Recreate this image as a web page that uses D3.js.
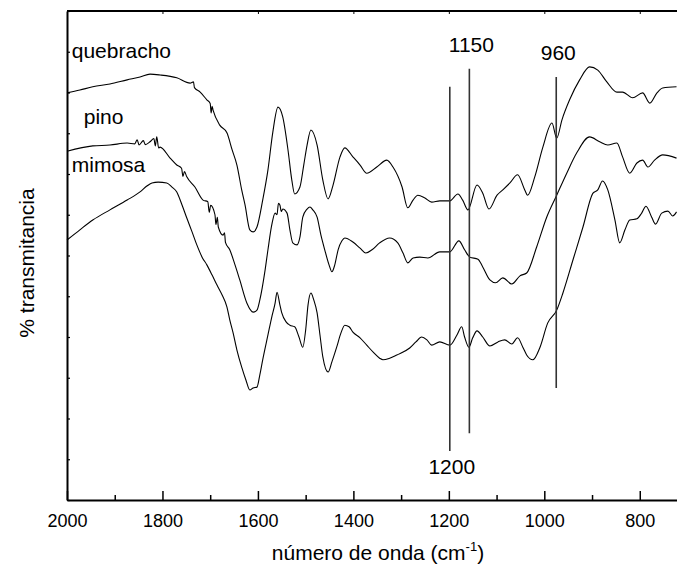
<!DOCTYPE html>
<html>
<head>
<meta charset="utf-8">
<script src="https://cdn.jsdelivr.net/npm/d3@7"></script>
<style>
  body { margin: 0; background: #fff; }
  svg { display: block; font-family: 'Liberation Sans', Arial, sans-serif; }
</style>
</head>
<body>
<div id="chart"></div>
<script>
// spectra: [wavenumber cm-1, transmittance (arbitrary %)]
const quebracho = [
  [2000, 99.9], [1973, 100.6], [1946, 101.4], [1910, 102.1], [1874, 103.1], [1847, 103.8],
  [1826, 104.5], [1805, 104.3], [1770, 103.6], [1742, 102.3], [1735, 102.6], [1733, 101.2],
  [1721, 100.1], [1707, 98.2], [1700, 97.3], [1698, 95.0], [1696, 96.6], [1694, 95.7],
  [1680, 92.0], [1665, 90.1], [1654, 85.9], [1644, 82.2], [1634, 76.1], [1627, 72.4],
  [1617, 66.3], [1610, 65.8], [1602, 67.0], [1590, 73.6], [1579, 81.0], [1569, 90.1],
  [1558, 96.4], [1548, 94.0], [1537, 85.9], [1529, 78.5], [1523, 75.1], [1512, 76.8],
  [1504, 82.2], [1497, 87.1], [1489, 90.8], [1476, 87.1], [1464, 78.5], [1453, 73.9],
  [1443, 77.1], [1428, 84.2], [1418, 86.4], [1401, 84.2], [1386, 82.2], [1372, 80.2],
  [1351, 81.7], [1330, 83.4], [1317, 81.7], [1298, 76.8], [1286, 71.7], [1275, 73.6],
  [1265, 74.8], [1250, 74.1], [1236, 73.1], [1219, 73.4], [1198, 73.4], [1181, 75.1],
  [1171, 73.6], [1160, 71.2], [1141, 77.3], [1129, 75.3], [1116, 71.4], [1099, 74.8],
  [1087, 76.1], [1072, 77.8], [1056, 79.8], [1041, 76.1], [1035, 74.8], [1020, 79.3],
  [1003, 86.6], [984, 92.5], [974, 88.8], [963, 93.3], [947, 98.2], [926, 103.1],
  [905, 106.3], [888, 105.5], [869, 102.6], [848, 100.1], [836, 100.1], [815, 98.7],
  [794, 99.9], [779, 97.4], [764, 99.9], [752, 101.1], [723, 101.4],
];

const pino = [
  [2000, 85.6], [1946, 86.9], [1910, 87.1], [1874, 87.6], [1858, 87.4], [1853, 88.4],
  [1849, 87.1], [1840, 88.2], [1836, 87.2], [1826, 87.9], [1818, 88.7], [1815, 86.9],
  [1812, 89.1], [1808, 86.4], [1805, 86.6], [1784, 83.9], [1770, 82.2], [1760, 81.4],
  [1757, 79.4], [1754, 80.6], [1749, 79.3], [1732, 76.8], [1715, 73.6], [1705, 73.2],
  [1702, 70.6], [1699, 72.3], [1690, 70.0], [1688, 67.6], [1685, 69.4], [1683, 67.0],
  [1673, 65.0], [1670, 65.6], [1668, 63.2], [1659, 61.4], [1648, 57.7], [1638, 54.0],
  [1623, 48.3], [1610, 46.1], [1602, 46.6], [1596, 49.1], [1585, 56.4], [1579, 61.4],
  [1571, 67.5], [1564, 70.4], [1560, 70.0], [1557, 72.8], [1554, 72.4], [1551, 70.8],
  [1548, 71.4], [1539, 70.4], [1533, 66.3], [1527, 63.1], [1518, 62.6], [1512, 64.5],
  [1506, 69.4], [1497, 71.4], [1491, 71.9], [1485, 71.2], [1476, 69.4], [1468, 65.0],
  [1460, 61.4], [1451, 57.7], [1445, 56.0], [1439, 57.7], [1432, 61.4], [1424, 63.6],
  [1418, 64.3], [1401, 63.3], [1386, 61.8], [1374, 60.6], [1361, 61.4], [1345, 63.1],
  [1324, 64.3], [1307, 63.1], [1296, 60.6], [1286, 58.2], [1275, 59.4], [1261, 59.6],
  [1244, 59.4], [1219, 60.9], [1198, 60.9], [1179, 63.6], [1167, 61.4], [1156, 59.6],
  [1139, 59.1], [1129, 57.2], [1114, 54.0], [1102, 53.3], [1087, 54.5], [1068, 53.0],
  [1051, 55.0], [1037, 55.7], [1016, 62.1], [995, 69.4], [974, 74.8], [953, 80.2],
  [932, 85.2], [905, 89.1], [884, 87.9], [867, 87.1], [848, 87.6], [836, 84.2],
  [821, 80.2], [806, 82.7], [794, 83.4], [783, 81.7], [769, 83.4], [752, 84.7], [723, 83.9],
];

const mimosa = [
  [2000, 63.8], [1973, 66.3], [1946, 68.7], [1910, 71.2], [1874, 73.6], [1847, 75.6],
  [1832, 77.1], [1822, 77.8], [1809, 78.0], [1791, 77.8], [1780, 76.8], [1770, 75.6],
  [1759, 72.4], [1749, 69.2], [1738, 65.8], [1728, 62.6], [1717, 59.6], [1707, 57.7],
  [1696, 55.2], [1686, 52.8], [1675, 50.3], [1665, 47.4], [1659, 44.2], [1652, 41.0],
  [1644, 36.8], [1634, 32.6], [1625, 29.4], [1617, 27.0], [1610, 27.5], [1602, 27.7],
  [1596, 30.7], [1590, 34.4], [1579, 40.5], [1571, 44.9], [1564, 48.3], [1560, 51.0],
  [1554, 47.9], [1550, 45.9], [1541, 43.7], [1533, 42.9], [1523, 42.5], [1514, 40.0],
  [1506, 37.5], [1500, 41.7], [1495, 47.9], [1489, 50.8], [1483, 49.1], [1476, 45.9],
  [1470, 40.5], [1464, 35.1], [1453, 31.4], [1445, 33.9], [1435, 37.5], [1426, 41.0],
  [1418, 42.9], [1409, 42.5], [1401, 41.2], [1386, 39.8], [1372, 38.0], [1357, 36.1],
  [1345, 34.8], [1338, 34.4], [1324, 34.8], [1309, 35.6], [1282, 37.3], [1269, 38.8],
  [1257, 40.0], [1246, 39.3], [1236, 38.0], [1219, 38.8], [1198, 38.0], [1183, 40.5],
  [1173, 42.5], [1167, 40.0], [1158, 37.5], [1150, 39.8], [1141, 41.5], [1129, 40.0],
  [1114, 37.8], [1097, 38.8], [1083, 39.3], [1068, 38.3], [1056, 39.8], [1045, 37.5],
  [1037, 35.6], [1024, 34.4], [1009, 37.5], [993, 43.4], [974, 46.6], [961, 50.8],
  [940, 58.9], [919, 67.0], [898, 75.3], [888, 76.1], [878, 78.3], [867, 76.1],
  [852, 68.7], [842, 63.1], [831, 66.3], [821, 68.7], [806, 69.0], [796, 70.4],
  [787, 72.1], [775, 69.4], [767, 67.7], [754, 70.4], [741, 70.9], [731, 69.7], [723, 70.7],
];

const seriesNames = ['quebracho', 'pino', 'mimosa'];
// label anchors (wavenumber, transmittance) for the sample names
const nameAnchors = [[1990, 108.4], [1965, 92.3], [1990, 80.5]];

// marker lines: label, position, top and bottom (transmittance)
const markerLabels = ['1200', '1150', '960'];
const markerPos = [1198, 1157, 975];
const markerTop = [101.4, 105.8, 103.8];
const markerBottom = [12.0, 16.4, 27.5];

const xMajor = [2000, 1800, 1600, 1400, 1200, 1000, 800];
const xMinor = [1900, 1700, 1500, 1300, 1100, 900];

const width = 677;
const height = 570;
const margin = { t: 11, r: 0, b: 70, l: 67 };

const svg = d3
  .select('#chart')
  .append('svg')
  .attr('width', width)
  .attr('height', height);

const x = d3.scaleLinear().domain([2000, 722]).range([margin.l, width - margin.r]);
const y = d3.scaleLinear().domain([0, 120]).range([height - margin.b, margin.t]);

// frame: top line and y ticks
svg.append('line')
  .attr('x1', margin.l).attr('x2', width)
  .attr('y1', margin.t).attr('y2', margin.t)
  .attr('stroke', '#000').attr('stroke-width', 2);

svg.append('g')
  .attr('transform', `translate(0, ${margin.t})`)
  .call(d3.axisTop(x).tickValues(xMajor).tickSize(-3).tickFormat(''))
  .call((g) => g.select('.domain').remove())
  .call((g) => g.selectAll('line').attr('stroke-width', 1));

svg.append('g')
  .attr('transform', `translate(${margin.l}, 0)`)
  .call(d3.axisLeft(y).ticks(12).tickSize(-3).tickSizeOuter(0).tickFormat(''))
  .call((g) => g.select('.domain').attr('stroke-width', 2))
  .call((g) => g.selectAll('.tick line').attr('stroke-width', 1.2));

// x axis
svg.append('g')
  .attr('transform', `translate(0, ${height - margin.b})`)
  .call(d3.axisBottom(x).tickValues(xMinor).tickSize(-5).tickSizeOuter(0).tickFormat(''))
  .call((g) => g.select('.domain').remove())
  .call((g) => g.selectAll('line').attr('stroke-width', 1.5));

svg.append('g')
  .attr('transform', `translate(0, ${height - margin.b})`)
  .call(d3.axisBottom(x).tickValues(xMajor).tickSize(-9).tickSizeOuter(0)
    .tickPadding(14).tickFormat(d3.format('d')))
  .call((g) => g.select('.domain').attr('stroke-width', 2))
  .call((g) => g.selectAll('.tick line').attr('stroke-width', 1.5))
  .call((g) => g.selectAll('text')
    .attr('font-family', "'Liberation Sans', Arial, sans-serif")
    .attr('font-size', 18)
    .attr('fill', '#000'));

// spectra
const line = d3
  .line()
  .x((d) => x(d[0]))
  .y((d) => y(d[1]))
  .curve(d3.curveMonotoneX);

svg.selectAll('.spectrum')
  .data([quebracho, pino, mimosa])
  .join('path')
  .attr('class', 'spectrum')
  .attr('d', line)
  .attr('fill', 'none')
  .attr('stroke', '#000')
  .attr('stroke-width', 1.1);

// sample names
svg.selectAll('.name')
  .data(seriesNames)
  .join('text')
  .attr('class', 'name')
  .attr('x', (d, i) => x(nameAnchors[i][0]))
  .attr('y', (d, i) => y(nameAnchors[i][1]))
  .attr('font-size', 21)
  .text((d) => d);

// marker lines
svg.selectAll('.marker')
  .data(markerPos)
  .join('line')
  .attr('class', 'marker')
  .attr('x1', (d) => x(d))
  .attr('x2', (d) => x(d))
  .attr('y1', (d, i) => y(markerTop[i]))
  .attr('y2', (d, i) => y(markerBottom[i]))
  .attr('stroke', '#333')
  .attr('stroke-width', 1.6);

svg.selectAll('.marker-label')
  .data(markerLabels)
  .join('text')
  .attr('class', 'marker-label')
  .attr('x', (d, i) => x(markerPos[i]) + 2)
  .attr('y', (d, i) => (i === 0 ? y(markerBottom[i]) + 23 : y(markerTop[i]) - 17))
  .attr('text-anchor', 'middle')
  .attr('font-size', 21)
  .text((d) => d);

// axis names
const xName = svg.append('text')
  .attr('x', 378)
  .attr('y', 560)
  .attr('text-anchor', 'middle')
  .attr('font-size', 21);
xName.append('tspan').text('número de onda (cm');
xName.append('tspan').attr('font-size', 13).attr('dy', -9).text('-1');
xName.append('tspan').attr('dy', 9).text(')');

svg.append('text')
  .attr('transform', 'translate(34, 263) rotate(-90)')
  .attr('text-anchor', 'middle')
  .attr('font-size', 21)
  .text('% transmitancia');
</script>
</body>
</html>
